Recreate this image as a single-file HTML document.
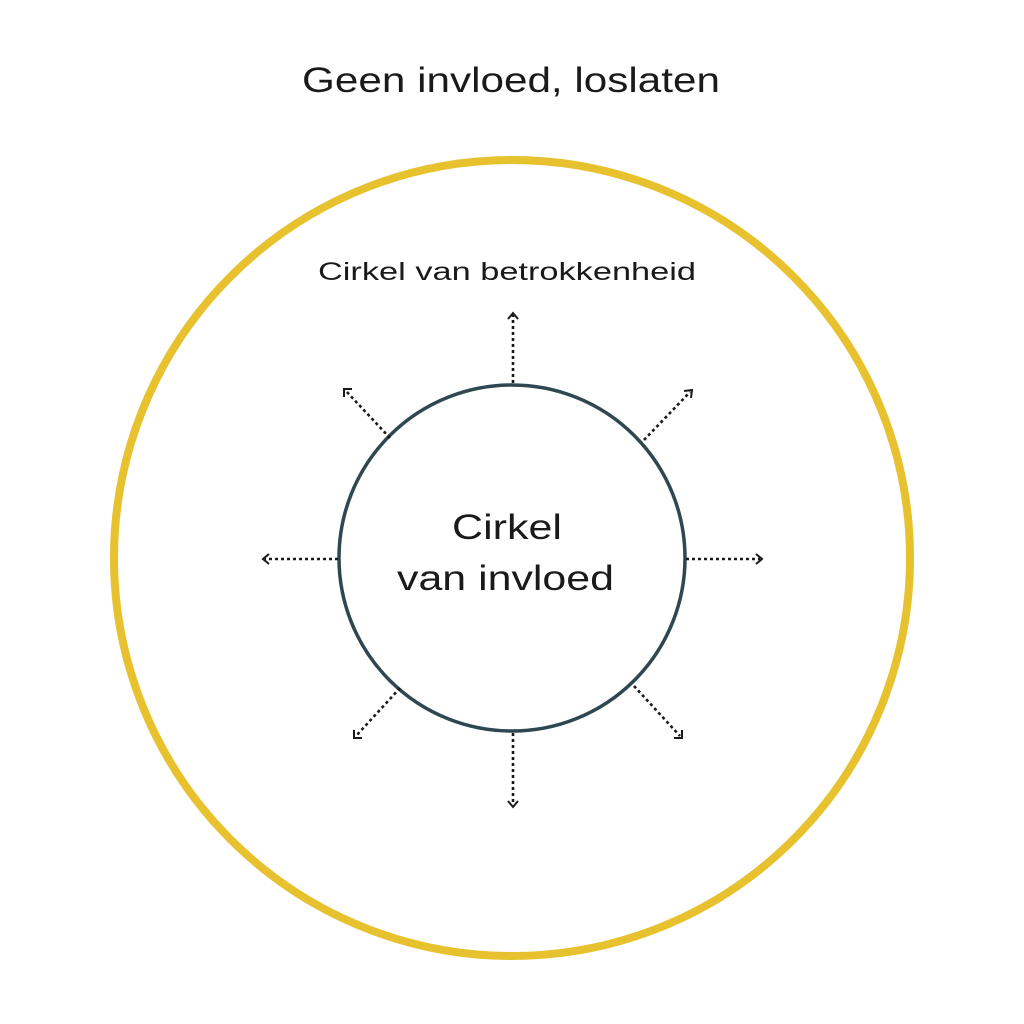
<!DOCTYPE html>
<html><head><meta charset="utf-8"><style>
html,body{margin:0;padding:0;background:#fff;}
svg{display:block;}
text{font-family:"Liberation Sans",sans-serif;fill:#1a1a1a;}
</style></head><body>
<svg width="1024" height="1024" viewBox="0 0 1024 1024" xmlns="http://www.w3.org/2000/svg">
<rect width="1024" height="1024" fill="#fff"/>
<text x="302" y="92" font-size="35" textLength="418" lengthAdjust="spacingAndGlyphs">Geen invloed, loslaten</text>
<circle cx="512" cy="558" r="398" fill="none" stroke="#E7C12E" stroke-width="8"/>
<text x="318" y="280" font-size="25" textLength="378" lengthAdjust="spacingAndGlyphs">Cirkel van betrokkenheid</text>
<circle cx="512" cy="558" r="173" fill="none" stroke="#2E4751" stroke-width="3.5"/>
<text x="452" y="539" font-size="35" textLength="110" lengthAdjust="spacingAndGlyphs">Cirkel</text>
<text x="397" y="590" font-size="35" textLength="217" lengthAdjust="spacingAndGlyphs">van invloed</text>
<g stroke="#1a1a1a" stroke-width="2.6" fill="none" stroke-dasharray="3 3">
<line x1="513" y1="383" x2="513" y2="315"/>
<line x1="513" y1="733" x2="513" y2="805"/>
<line x1="338" y1="559" x2="265" y2="559"/>
<line x1="686" y1="559" x2="760" y2="559"/>
<line x1="644" y1="440" x2="690" y2="392"/>
<line x1="390" y1="438" x2="346" y2="391"/>
<line x1="400" y1="688" x2="356" y2="736"/>
<line x1="634" y1="686" x2="680" y2="736"/>
</g>
<g stroke="#1a1a1a" stroke-width="2" fill="none">
<polyline points="508,319 513,313 518,319"/>
<polyline points="508,801 513,807 518,801"/>
<polyline points="269,554 263,559 269,564"/>
<polyline points="756,554 762,559 756,564"/>
<polyline points="684,391 692,390 691,398"/>
<polyline points="352,389 344,389 344,397"/>
<polyline points="354,730 354,738 362,738"/>
<polyline points="674,738 682,738 682,730"/>
</g>
</svg>
</body></html>
